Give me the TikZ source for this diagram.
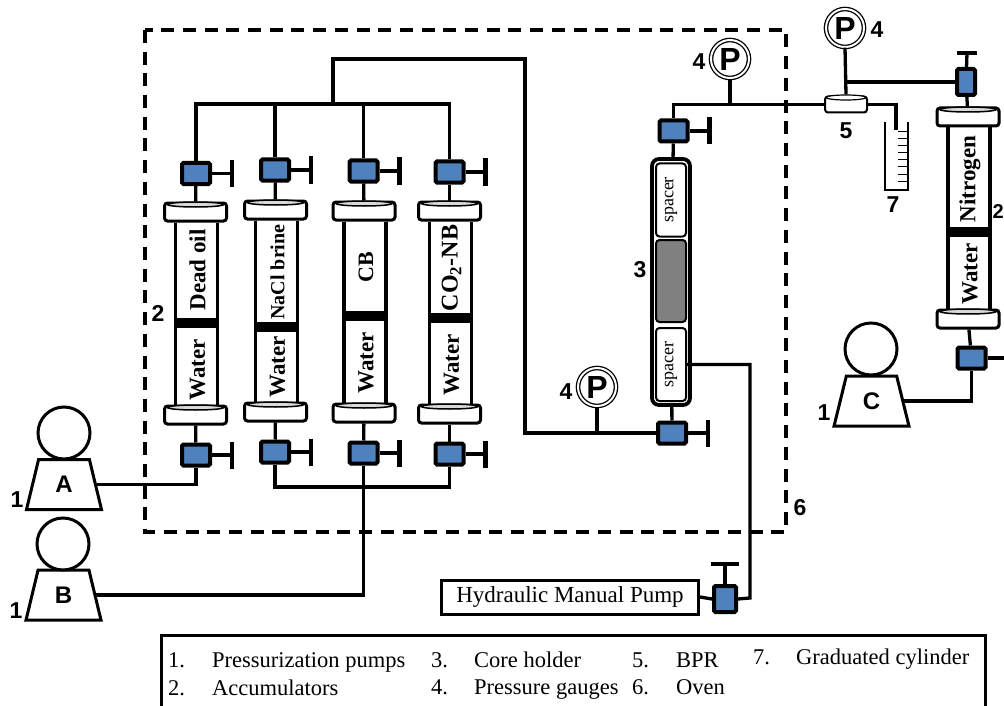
\documentclass[tikz,border=0pt]{standalone}
\usepackage{fontspec}
\setmainfont{Liberation Serif}
\newfontfamily\sansfont{Liberation Sans}
\usetikzlibrary{shapes.geometric}
\usetikzlibrary{calc}

\definecolor{valveblue}{HTML}{4F81BD}
\definecolor{coregray}{HTML}{808080}

\tikzset{
  pipe/.style={line width=3.3pt},
  bar/.style={line width=4.2pt},
  wall/.style={line width=3.8pt},
  valve/.style={rectangle, draw, line width=4pt, rounded corners=1.5pt, fill=valveblue, inner sep=0pt, minimum width=28pt, minimum height=21pt},
  valveup/.style={valve, minimum width=18pt, minimum height=26pt},
  capbox/.style={rectangle, draw, line width=3pt, rounded corners=3pt, fill=white, inner sep=0pt, minimum width=62pt, minimum height=18pt},
  capring/.style={ellipse, draw, line width=1.5pt, fill=black!15, inner sep=0pt, minimum width=56pt, minimum height=5pt},
  piston/.style={rectangle, fill=black, inner sep=0pt, minimum width=43pt, minimum height=10pt},
  fluid/.style={rotate=90, inner sep=0pt, font=\bfseries},
  spacerbox/.style={rectangle, draw, line width=2pt, rounded corners=3.5pt, fill=white, inner sep=0pt, minimum width=30pt, minimum height=73pt, font=\fontsize{18}{18}\selectfont},
  gauge/.style={circle, draw, double, double distance=2pt, line width=1.3pt, fill=white, inner sep=0pt, minimum size=38pt, font=\sansfont\fontsize{32}{32}\selectfont\bfseries},
  pumpbody/.style={trapezium, draw, line width=3pt, trapezium stretches=true, fill=white, inner sep=0pt, minimum width=75pt, minimum height=50pt, trapezium left angle=76, trapezium right angle=76, font=\sansfont\fontsize{24}{24}\selectfont\bfseries},
  pumphead/.style={circle, draw, line width=3pt, fill=white, inner sep=0pt, minimum size=52pt},
  tag/.style={inner sep=0pt, font=\sansfont\fontsize{23}{23}\selectfont\bfseries},
  legend/.style={anchor=base west, inner sep=0pt, font=\fontsize{22.5}{22.5}\selectfont},
}

\begin{document}
\begin{tikzpicture}[x=1pt, y=-1pt]

        \useasboundingbox (0,0) rectangle (1004,706);
        \clip (0,0) rectangle (1004,706);

        % oven
        \draw[line width=3.3pt, dash pattern=on 13pt off 8.7pt] (145,30) rectangle (786,532);
        \node[tag] (tag6) at (800,508) {6};

        % accumulators
        \foreach \n/\x/\ct/\py/\cb/\lab/\sz/\ly/\wy in {
            a/195.5/212/318/415/{Dead oil}/23/270/370,
            b/275.5/210/322/412/{NaCl brine}/20/272/367,
            c/364/211/311/413/{CB}/22/267/363,
            d/449.5/211/313/414/{CO\textsubscript{2}-NB}/24/268/365,
            e/968/117/227/319/{Nitrogen}/23/179/274} {
          \node[capbox] (capt\n) at (\x,\ct) {};
          \node[capbox] (capb\n) at (\x,\cb) {};
          \draw[wall] ($(capt\n.south)+(-20,0)$) -- ($(capb\n.north)+(-20,0)$);
          \draw[wall] ($(capt\n.south)+(22,0)$) -- ($(capb\n.north)+(22,0)$);
          \node[capring] (ringt\n) at ($(capt\n.north)+(0,3)$) {};
          \node[capring] (ringb\n) at ($(capb\n.north)+(0,3)$) {};
          \node[piston] (pist\n) at (\x+1,\py+5) {};
          \node[fluid] (text\n) at (\x+2,\ly) {\fontsize{\sz}{\sz}\selectfont\lab};
          \node[fluid] (water\n) at (\x+2,\wy) {\fontsize{23}{23}\selectfont Water};
        }

        % valves on the four accumulators
        \foreach \n/\x/\yt/\yb in {a/196/173.5/455, b/275/170/452, c/363.5/171/453, d/449.5/172/454} {
          \node[valve] (vt\n) at (\x,\yt) {};
          \node[valve] (vb\n) at (\x,\yb) {};
          \draw[pipe] (vt\n) -- (capt\n);
          \draw[pipe] (vb\n) -- (capb\n);
          \draw[pipe] (vt\n.east) -- ++(20,0) coordinate (ht\n);
          \draw[pipe] (vb\n.east) -- ++(20,0) coordinate (hb\n);
          \draw[bar] ($(ht\n)+(0,-13.5)$) -- ($(ht\n)+(0,13.5)$);
          \draw[bar] ($(hb\n)+(0,-13.5)$) -- ($(hb\n)+(0,13.5)$);
        }

        \coordinate (mt) at (333,104);
        \coordinate (mb) at (363.5,487);
        \coordinate (mr) at (525,59);
        \foreach \n in {a,b,c,d} {
          \draw[pipe] (vt\n.north) |- (mt);
        }
        \foreach \n in {b,c,d} {
          \draw[pipe] (vb\n.south) |- (mb);
        }

        % pumps
        \node[pumpbody] (pa) at (64,484.5) {A};
        \node[pumphead] (ha) at (64,433) {};
        \node[pumpbody] (pb) at (63.5,595) {B};
        \node[pumphead] (hb) at (63,544) {};
        \node[pumpbody] (pc) at (871.5,401) {C};
        \node[pumphead] (hc) at (871,349) {};
        \node[tag] (tag1a) at (17,500) {1};
        \node[tag] (tag1b) at (16,611) {1};
        \node[tag] (tag1c) at (824,413) {1};
        \node[tag] (tag2a) at (158,313) {2};
        \node[tag, anchor=east, font=\sansfont\fontsize{20}{20}\selectfont\bfseries] (tag2e) at (1004,212) {2};

        \draw[pipe] (pa.east) -| (vba.south);
        \draw[pipe] (pb.east) -| (vbc.south);

        % core holder
        \node[rectangle, draw, line width=3.8pt, rounded corners=7pt, inner sep=0pt, minimum width=38pt, minimum height=246pt] (holder) at (671,282) {};
        \node[spacerbox] (sp1) at (671,200) {\rotatebox{90}{spacer}};
        \node[spacerbox, fill=coregray, minimum height=82pt] (core) at (671,281) {};
        \node[spacerbox] (sp2) at (671,364.5) {\rotatebox{90}{spacer}};
        \node[tag] (tag3) at (640,270) {3};

        \node[valve] (vct) at (673.5,131) {};
        \node[valve] (vcb) at (672,433) {};
        \draw[pipe] (vct) -- (holder);
        \draw[pipe] (vcb) -- (holder);
        \draw[pipe] (vct.east) -- ++(20,0) coordinate (hct);
        \draw[pipe] (vcb.east) -- ++(20,0) coordinate (hcb);
        \draw[bar] ($(hct)+(0,-13.5)$) -- ($(hct)+(0,13.5)$);
        \draw[bar] ($(hcb)+(0,-13.5)$) -- ($(hcb)+(0,13.5)$);
        \draw[pipe] (mt) |- (mr) |- (vcb.west);

        % gauges and BPR
        \node[rectangle, draw, line width=2pt, rounded corners=3pt, fill=white, inner sep=0pt, minimum width=42pt, minimum height=16pt] (bpr) at (846,104.5) {};
        \node[ellipse, draw, line width=1.2pt, fill=white, inner sep=0pt, minimum width=40pt, minimum height=5pt] (bprring) at ($(bpr.north)+(0,2)$) {};
        \node[tag] (tag5) at (846,131) {5};

        \node[gauge] (g1) at (597,387) {P};
        \node[gauge] (g2) at (730,59) {P};
        \node[gauge] (g3) at (845,28) {P};
        \node[tag] (tag4a) at (566,392) {4};
        \node[tag] (tag4b) at (699,62) {4};
        \node[tag] (tag4c) at (877,30) {4};

        \draw[pipe] (g1.south) -- (g1.south |- vcb.west);
        \draw[pipe] (vct.north) |- (bpr.west);
        \draw[pipe] (g2.south) -- (g2.south |- bpr.west);
        \draw[pipe] (g3.south) -- (bprring.north);

        % graduated cylinder
        \coordinate (cyl) at (896,130);
        \draw[pipe] (bpr.east) -| (cyl);
        \draw[line width=1.5pt] (885,122) -- (885,190) -- (908,190) -- (908,122);
        \foreach \j in {0,...,7} {
          \draw[line width=1pt] (898,132+7*\j) -- (908,132+7*\j);
        }
        \node[tag] (tag7) at (893,205) {7};

        % nitrogen accumulator
        \node[valveup] (vte) at (966,82) {};
        \coordinate (hte) at (967,53);
        \draw[pipe] (vte) -- (capte);
        \draw[pipe] (vte) -- (hte);
        \draw[bar] ($(hte)+(-10,0)$) -- ($(hte)+(10,0)$);
        \draw[pipe] (vte.west) -- (vte.west -| g3.south);
        \node[valve] (vbe) at (971.5,358) {};
        \coordinate (hbe) at (1004,358);
        \draw[pipe] (vbe) -- (capbe);
        \draw[pipe] (vbe.east) -- (hbe);
        \draw[pipe] (pc.east) -| (vbe.south);

        % manual pump
        \node[rectangle, draw, line width=3pt, inner sep=0pt, minimum width=257pt, minimum height=34pt, font=\fontsize{23}{23}\selectfont] (manual) at (570,597) {Hydraulic Manual Pump};
        \node[valveup, minimum width=22pt] (vh) at (725,599) {};
        \coordinate (hh) at (725,564);
        \coordinate (hp) at (750,598);
        \draw[pipe] (manual.east) -- (vh.west);
        \draw[pipe] (vh) -- (hh);
        \draw[bar] ($(hh)+(-14,0)$) -- ($(hh)+(14,0)$);
        \draw[pipe] (sp2.east) -| (hp) -- (vh.east);

        % legend
        \draw[line width=3pt] (161,635) rectangle (985,712);
        \foreach \i/\x/\y/\txt in {
            l1/168/667/{1.}, l2/212/667/{Pressurization pumps},
            l3/168/695/{2.}, l4/212/695/{Accumulators},
            l5/431/667/{3.}, l6/474/667/{Core holder},
            l7/431/694/{4.}, l8/474/694/{Pressure gauges},
            l9/632/667/{5.}, l10/676/667/{BPR},
            l11/632/694/{6.}, l12/676/694/{Oven},
            l13/753/664/{7.}, l14/796/664/{Graduated cylinder}} {
          \node[legend] (\i) at (\x,\y) {\txt};
        }

      \end{tikzpicture}
\end{document}
